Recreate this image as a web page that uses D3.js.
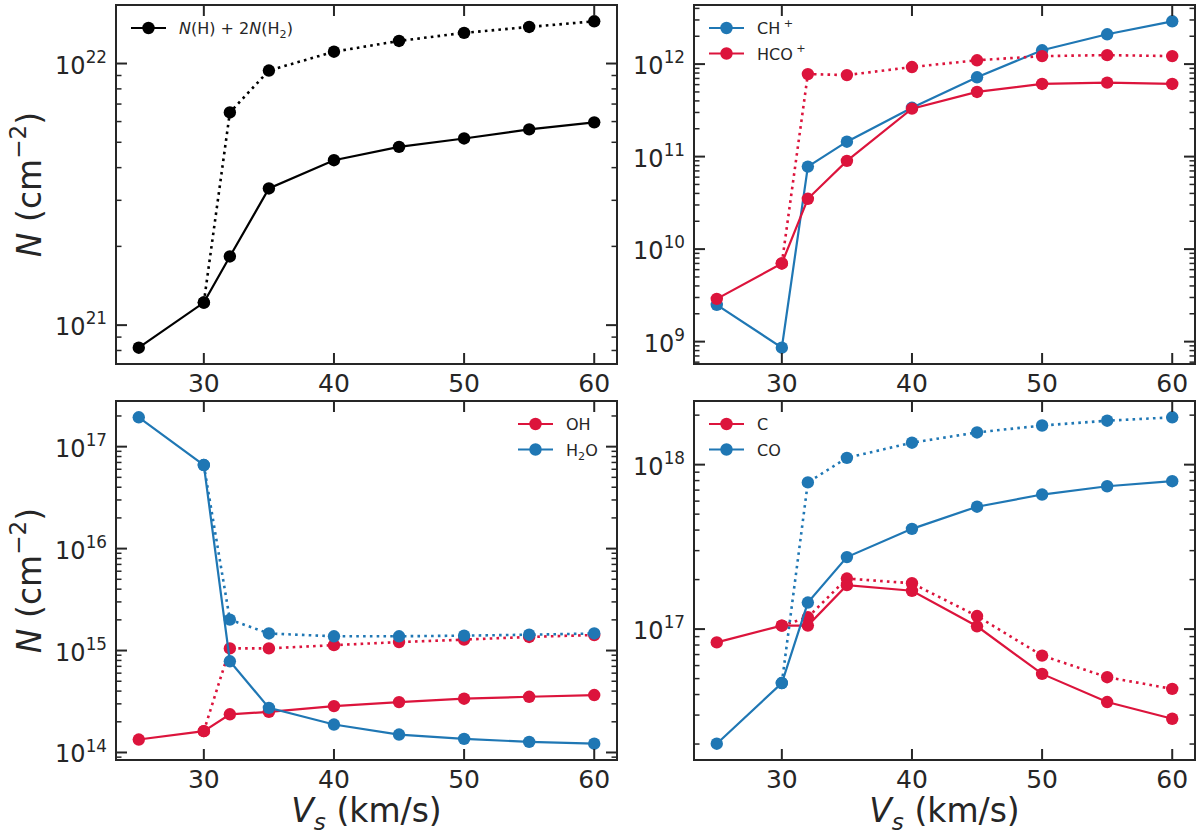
<!DOCTYPE html>
<html>
<head>
<meta charset="utf-8">
<script src="https://cdn.jsdelivr.net/npm/d3@7/dist/d3.min.js"></script>
<style>
    body { margin: 0; background: #fff; }
    text { font-family: "DejaVu Sans", sans-serif; fill: #262626; }
</style>
</head>
<body>
<svg id="chart" width="1200" height="837"></svg>
<script>
// shock velocity grid (km/s)
const vs = [25, 30, 32, 35, 40, 45, 50, 55, 60];
const x_ticks = [30, 40, 50, 60];

// column densities (cm^-2); solid = one model, dotted = other model (starts at 30 km/s)
const nh_solid = [8.2e20, 1.22e21, 1.83e21, 3.33e21, 4.27e21, 4.8e21, 5.17e21, 5.6e21, 5.96e21];
const nh_dot = [null, 1.22e21, 6.5e21, 9.4e21, 1.11e22, 1.22e22, 1.31e22, 1.38e22, 1.45e22];

const chp_solid = [2.5e9, 8.6e8, 7.8e10, 1.45e11, 3.37e11, 7.2e11, 1.41e12, 2.1e12, 2.9e12];
const hcop_solid = [2.9e9, 7.0e9, 3.5e10, 9.0e10, 3.3e11, 5.0e11, 6.1e11, 6.3e11, 6.1e11];
const hcop_dot = [null, 7.0e9, 7.8e11, 7.6e11, 9.3e11, 1.1e12, 1.22e12, 1.25e12, 1.22e12];

const oh_solid = [1.34e14, 1.62e14, 2.37e14, 2.5e14, 2.85e14, 3.12e14, 3.37e14, 3.52e14, 3.66e14];
const oh_dot = [null, 1.62e14, 1.05e15, 1.05e15, 1.13e15, 1.21e15, 1.28e15, 1.36e15, 1.42e15];
const h2o_solid = [1.94e17, 6.6e16, 7.85e14, 2.74e14, 1.88e14, 1.5e14, 1.36e14, 1.27e14, 1.22e14];
const h2o_dot = [null, 6.6e16, 2.01e15, 1.47e15, 1.38e15, 1.38e15, 1.40e15, 1.43e15, 1.47e15];

const c_solid = [8.3e16, 1.05e17, 1.05e17, 1.85e17, 1.71e17, 1.04e17, 5.34e16, 3.6e16, 2.85e16];
const c_dot = [null, 1.05e17, 1.18e17, 2.03e17, 1.9e17, 1.2e17, 6.9e16, 5.1e16, 4.33e16];
const co_solid = [2.01e16, 4.7e16, 1.45e17, 2.74e17, 4.07e17, 5.55e17, 6.58e17, 7.39e17, 7.93e17];
const co_dot = [null, 4.7e16, 7.8e17, 1.1e18, 1.36e18, 1.57e18, 1.73e18, 1.85e18, 1.94e18];

const red = "#dc143c",
    blue = "#1f77b4",
    black = "#000",
    ink = "#262626";

const panels = [
    {box: [116, 617, 5, 364], legend: "ul", xlabel: false, ylabel: true, series: [
        {label: [["N", "i"], ["(H) + 2", ""], ["N", "i"], ["(H", ""], ["2", "sub"], [")", ""]], color: black, solid: nh_solid, dot: nh_dot}
    ]},
    {box: [694, 1195, 5, 364], legend: "ul", xlabel: false, ylabel: false, series: [
        {label: [["CH", ""], [" +", "sup"]], color: blue, solid: chp_solid, dot: null},
        {label: [["HCO", ""], [" +", "sup"]], color: red, solid: hcop_solid, dot: hcop_dot}
    ]},
    {box: [116, 617, 401, 760], legend: "ur", xlabel: true, ylabel: true, series: [
        {label: [["OH", ""]], color: red, solid: oh_solid, dot: oh_dot},
        {label: [["H", ""], ["2", "sub"], ["O", ""]], color: blue, solid: h2o_solid, dot: h2o_dot}
    ]},
    {box: [694, 1195, 401, 760], legend: "ul", xlabel: true, ylabel: false, series: [
        {label: [["C", ""]], color: red, solid: c_solid, dot: c_dot},
        {label: [["CO", ""]], color: blue, solid: co_solid, dot: co_dot}
    ]}
];

const svg = d3.select("#chart");

// text with italic / sub / superscript pieces
function rich(t, parts, fs) {
    let shift = 0;
    parts.forEach(([s, k]) => {
        const small = k.includes("sup") || k.includes("sub");
        const target = k.includes("sup") ? -0.45 * fs : k.includes("sub") ? 0.25 * fs : 0;
        t.append("tspan")
            .text(s)
            .attr("dy", target - shift)
            .style("font-size", (small ? 0.7 * fs : fs) + "px")
            .style("font-style", k.includes("i") ? "italic" : "normal");
        shift = target;
    });
}

function draw_panel(p) {
    const [x0, x1, y0, y1] = p.box;
    const g = svg.append("g");

    const x = d3.scaleLinear().domain([23.25, 61.75]).range([x0, x1]);

    // log domain padded by 5% like matplotlib autoscale
    const vals = p.series.flatMap(s => s.solid.concat(s.dot || [])).filter(v => v != null);
    const lmin = Math.log10(d3.min(vals)), lmax = Math.log10(d3.max(vals));
    const pad = 0.05 * (lmax - lmin);
    const y = d3.scaleLog().domain([10 ** (lmin - pad), 10 ** (lmax + pad)]).range([y1, y0]);

    const line = d3.line()
        .defined(d => d[1] != null)
        .x(d => x(d[0]))
        .y(d => y(d[1]));

    p.series.forEach(s => {
        [["dot", "2.6,4.2", 2.6], ["solid", null, 2.2]].forEach(([key, dash, lw]) => {
            const arr = s[key];
            if (!arr) return;
            const pts = vs.map((v, i) => [v, arr[i]]);
            g.append("path")
                .attr("d", line(pts))
                .attr("fill", "none")
                .attr("stroke", s.color)
                .attr("stroke-width", lw)
                .attr("stroke-dasharray", dash);
            g.selectAll(null)
                .data(pts.filter(d => d[1] != null))
                .enter()
                .append("circle")
                .attr("cx", d => x(d[0]))
                .attr("cy", d => y(d[1]))
                .attr("r", 6.2)
                .attr("fill", s.color);
        });
    });

    // ticks, all pointing inward
    const [d0, d1] = y.domain().map(Math.log10);
    const majors = d3.range(Math.ceil(d0), Math.floor(d1) + 1);
    const minors = [];
    d3.range(Math.floor(d0), Math.ceil(d1)).forEach(e => {
        for (let k = 2; k <= 9; k++) {
            const v = k * 10 ** e;
            if (Math.log10(v) >= d0 && Math.log10(v) <= d1) minors.push(v);
        }
    });

    const ticks = g.append("g").attr("stroke", ink);
    x_ticks.forEach(v => {
        ticks.append("line").attr("x1", x(v)).attr("x2", x(v)).attr("y1", y1).attr("y2", y1 - 11).attr("stroke-width", 2);
        ticks.append("line").attr("x1", x(v)).attr("x2", x(v)).attr("y1", y0).attr("y2", y0 + 11).attr("stroke-width", 2);
        g.append("text")
            .attr("x", x(v))
            .attr("y", y1 + 28)
            .attr("text-anchor", "middle")
            .style("font-size", "25px")
            .text(v);
    });
    majors.forEach(e => {
        const yy = y(10 ** e);
        ticks.append("line").attr("x1", x0).attr("x2", x0 + 11).attr("y1", yy).attr("y2", yy).attr("stroke-width", 2);
        ticks.append("line").attr("x1", x1).attr("x2", x1 - 11).attr("y1", yy).attr("y2", yy).attr("stroke-width", 2);
        const t = g.append("text")
            .attr("x", x0 - 9)
            .attr("y", yy + 10)
            .attr("text-anchor", "end")
            .style("font-size", "24px");
        rich(t, [["10", ""], [String(e), "sup"]], 24);
    });
    minors.forEach(v => {
        const yy = y(v);
        ticks.append("line").attr("x1", x0).attr("x2", x0 + 5.5).attr("y1", yy).attr("y2", yy).attr("stroke-width", 1.5);
        ticks.append("line").attr("x1", x1).attr("x2", x1 - 5.5).attr("y1", yy).attr("y2", yy).attr("stroke-width", 1.5);
    });

    g.append("rect")
        .attr("x", x0).attr("y", y0)
        .attr("width", x1 - x0).attr("height", y1 - y0)
        .attr("fill", "none")
        .attr("stroke", ink)
        .attr("stroke-width", 2);

    // legend (no frame)
    const lx = p.legend === "ul" ? x0 + 15 : x1 - 99;
    p.series.forEach((s, i) => {
        const ly = y0 + 23 + i * 25.5;
        g.append("line")
            .attr("x1", lx).attr("x2", lx + 35)
            .attr("y1", ly).attr("y2", ly)
            .attr("stroke", s.color).attr("stroke-width", 2.2);
        g.append("circle").attr("cx", lx + 17.5).attr("cy", ly).attr("r", 6.2).attr("fill", s.color);
        const t = g.append("text")
            .attr("x", lx + 48)
            .attr("y", ly + 6)
            .style("font-size", "16px");
        rich(t, s.label, 16);
    });

    if (p.ylabel) {
        const t = g.append("text")
            .attr("transform", `translate(41,${(y0 + y1) / 2}) rotate(-90)`)
            .attr("text-anchor", "middle")
            .style("font-size", "33px");
        rich(t, [["N", "i"], [" (cm", ""], ["\u22122", "sup"], [")", ""]], 33);
    }
    if (p.xlabel) {
        const t = g.append("text")
            .attr("x", (x0 + x1) / 2)
            .attr("y", y1 + 62)
            .attr("text-anchor", "middle")
            .style("font-size", "33px");
        rich(t, [["V", "i"], ["s", "isub"], [" (km/s)", ""]], 33);
    }
}

panels.forEach(draw_panel);
</script>
</body>
</html>
